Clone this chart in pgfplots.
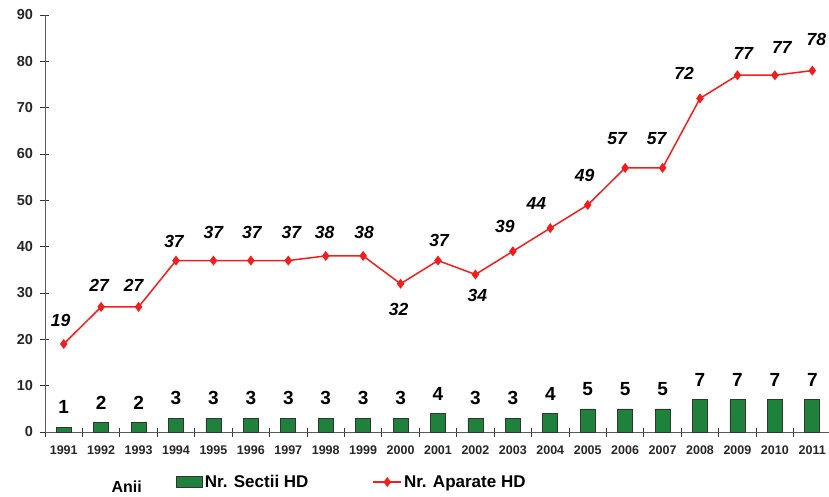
\documentclass[border=0pt]{standalone}
\usepackage{pgfplots}
\pgfplotsset{compat=1.18}
\usepackage{pgfplotstable}
\usepackage{fontspec}
\setmainfont{Liberation Sans}
\definecolor{linered}{RGB}{240,30,30}
\definecolor{bargreen}{RGB}{30,130,60}
\definecolor{axgray}{RGB}{90,90,90}
\pgfplotsset{
  boxlegend/.style={legend image code/.code={\draw[##1] (0pt,-5.5pt) rectangle (26pt,5.5pt);}},
  linelegend/.style={legend image code/.code={\draw[mark repeat=2, mark phase=2, ##1] plot coordinates {(0pt,0pt) (14pt,0pt) (28pt,0pt)};}},
}
\pgfplotstableread{
x y off xoff
0 19 23 -3
1 27 22 -2
2 27 22 -5
3 37 19 -2
4 37 28 0
5 37 28 1
6 37 28 3
7 38 23 -1
8 38 23 1
9 32 -26 -2
10 37 20 1
11 34 -21 2
12 39 25 -8
13 44 25 -14
14 49 29 -3
15 57 29 -8
16 57 29 -6
17 72 25 -16
18 77 22 6
19 77 28 7
20 78 31 4
}\aparate
\pgfplotstableread{
x y
0 1
1 2
2 2
3 3
4 3
5 3
6 3
7 3
8 3
9 3
10 4
11 3
12 3
13 4
14 5
15 5
16 5
17 7
18 7
19 7
20 7
}\sectii
\begin{document}
\begin{tikzpicture}
\begin{axis}[
  at={(0pt,0pt)}, anchor=south west,
  scale only axis,
  width=786pt, height=417pt,
  xmin=-0.5, xmax=20.5,
  ymin=0, ymax=90,
  axis lines=left,
  axis line style={-, draw=axgray, line width=0.8pt},
  clip=false,
  ytick={0,10,...,90},
  xtick={-0.5,0.5,...,20.5},
  x tick label as interval,
  xticklabels={1991,1992,1993,1994,1995,1996,1997,1998,1999,2000,2001,2002,2003,2004,2005,2006,2007,2008,2009,2010,2011},
  tick align=center,
  major tick length=9pt,
  tick style={draw=black!80, line width=0.8pt},
  /pgf/number format/assume math mode=true,
  yticklabel style={font=\fontsize{14.5}{14.5}\selectfont\bfseries, text=black!85, xshift=-4pt},
  xticklabel style={font=\fontsize{12.5}{12.5}\selectfont\bfseries, text=black!85, yshift=-6pt},
  xlabel={Anii},
  xlabel style={at={(axis description cs:0.104,-0.132)}, anchor=center, font=\fontsize{16}{16}\selectfont\bfseries},
  legend columns=2,
  legend style={at={(axis description cs:0.163,-0.12)}, anchor=west, draw=none, fill=none,
    font=\fontsize{17}{17}\selectfont\bfseries,
    /tikz/every even column/.append style={column sep=62pt}},
]
\addplot[ybar, bar width=15pt, fill=bargreen, draw=black!80, line width=0.6pt,
  nodes near coords,
  every node near coord/.append style={anchor=center, yshift=20pt, font=\fontsize{19}{19}\selectfont\bfseries, text=black},
  boxlegend
] table[x=x,y=y] {\sectii};
\addlegendentry{Nr. Sectii HD}
\addplot[linered, line width=1.5pt, mark=diamond*, mark size=3.8pt, mark options={fill=linered, draw=linered},
  nodes near coords,
  visualization depends on={\thisrow{off}\as\myoff},
  visualization depends on={\thisrow{xoff}\as\myxoff},
  every node near coord/.append style={anchor=center, yshift=\myoff pt, xshift=\myxoff pt, font=\fontsize{17.5}{17.5}\selectfont\bfseries\itshape, text=black},
  linelegend
] table[x=x,y=y] {\aparate};
\addlegendentry{Nr. Aparate HD}
\end{axis}
\pgfresetboundingbox
\useasboundingbox (-45pt,-64pt) rectangle (784pt,432pt);
\end{tikzpicture}
\end{document}
